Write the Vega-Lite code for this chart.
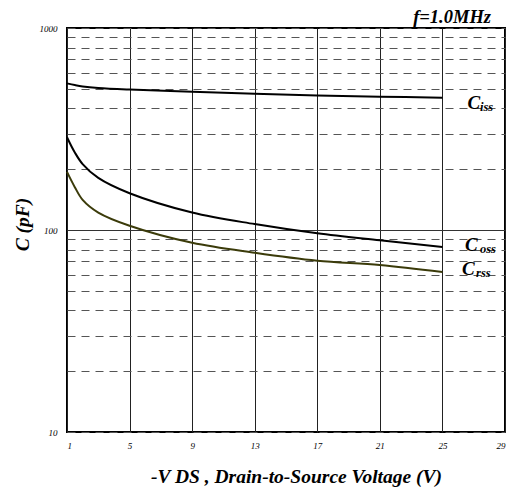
{
  "$schema": "https://vega.github.io/schema/vega-lite/v6.json",
  "width": 438,
  "height": 404,
  "autosize": {"type": "none"},
  "padding": {"left": 67, "top": 28, "right": 5, "bottom": 57},
  "background": "white",
  "title": {"text": "f=1.0MHz", "anchor": "end", "font": "Liberation Serif", "fontSize": 18.5, "fontStyle": "italic", "fontWeight": "bold", "color": "black", "offset": 0, "dx": -14, "dy": 2},
  "config": {
    "view": {"stroke": "black", "strokeWidth": 2},
    "font": "Liberation Serif"
  },
  "datasets": {
    "curves": [
      {"vds": 1, "c": 532, "series": "Ciss"},
      {"vds": 1.5, "c": 522, "series": "Ciss"},
      {"vds": 2, "c": 514, "series": "Ciss"},
      {"vds": 3, "c": 505, "series": "Ciss"},
      {"vds": 5, "c": 496, "series": "Ciss"},
      {"vds": 9, "c": 484, "series": "Ciss"},
      {"vds": 13, "c": 472, "series": "Ciss"},
      {"vds": 17, "c": 463, "series": "Ciss"},
      {"vds": 21, "c": 457, "series": "Ciss"},
      {"vds": 25, "c": 452, "series": "Ciss"},
      {"vds": 1, "c": 288, "series": "Coss"},
      {"vds": 1.5, "c": 242, "series": "Coss"},
      {"vds": 2, "c": 212, "series": "Coss"},
      {"vds": 3, "c": 181, "series": "Coss"},
      {"vds": 5, "c": 152, "series": "Coss"},
      {"vds": 9, "c": 122, "series": "Coss"},
      {"vds": 13, "c": 107, "series": "Coss"},
      {"vds": 17, "c": 96.3, "series": "Coss"},
      {"vds": 21, "c": 88.9, "series": "Coss"},
      {"vds": 25, "c": 82.4, "series": "Coss"},
      {"vds": 1, "c": 194, "series": "Crss"},
      {"vds": 1.5, "c": 163, "series": "Crss"},
      {"vds": 2, "c": 141, "series": "Crss"},
      {"vds": 3, "c": 122, "series": "Crss"},
      {"vds": 5, "c": 105, "series": "Crss"},
      {"vds": 9, "c": 86.5, "series": "Crss"},
      {"vds": 13, "c": 77.2, "series": "Crss"},
      {"vds": 17, "c": 70.5, "series": "Crss"},
      {"vds": 21, "c": 67.1, "series": "Crss"},
      {"vds": 25, "c": 61.9, "series": "Crss"}
    ],
    "labels": [
      {"vds": 26.6, "c": 397, "label": "C", "part": "main"},
      {"vds": 27.4, "c": 397, "label": "iss", "part": "sub"},
      {"vds": 26.45, "c": 78.7, "label": "C", "part": "main"},
      {"vds": 27.4, "c": 78.7, "label": "oss", "part": "sub"},
      {"vds": 26.25, "c": 59.9, "label": "C", "part": "main"},
      {"vds": 27.15, "c": 59.9, "label": "rss", "part": "sub"}
    ]
  },
  "encoding": {
    "x": {
      "field": "vds", "type": "quantitative",
      "scale": {"domain": [1, 29], "nice": false, "zero": false},
      "axis": {
        "values": [1, 5, 9, 13, 17, 21, 25, 29],
        "domain": false, "ticks": false,
        "grid": true, "gridColor": "#222", "gridWidth": 1,
        "labelFont": "Liberation Serif", "labelFontStyle": "italic", "labelFontSize": 9, "labelColor": "black", "labelPadding": 9,
        "title": "-V DS , Drain-to-Source Voltage (V)",
        "titleFont": "Liberation Serif", "titleFontSize": 19.5, "titleFontStyle": "italic", "titleFontWeight": "bold", "titleColor": "black",
        "titleX": 229, "titleY": 50, "titleBaseline": "alphabetic"
      }
    },
    "y": {
      "field": "c", "type": "quantitative",
      "scale": {"type": "log", "domain": [10, 1000], "nice": false},
      "axis": {
        "values": [10, 20, 30, 40, 50, 60, 70, 80, 90, 100, 200, 300, 400, 500, 600, 700, 800, 900, 1000],
        "labelExpr": "datum.value == 10 || datum.value == 100 || datum.value == 1000 ? format(datum.value, 'd') : ''",
        "domain": false, "ticks": false,
        "grid": true,
        "gridColor": {"condition": {"test": "datum.value == 100", "value": "#333"}, "value": "#555"},
        "gridDash": {"condition": {"test": "datum.value == 100", "value": []}, "value": [8, 6]},
        "gridWidth": 1,
        "labelFont": "Liberation Serif", "labelFontStyle": "italic", "labelFontSize": 9, "labelColor": "black", "labelPadding": 10,
        "title": "C (pF)",
        "titleFont": "Liberation Serif", "titleFontSize": 19.5, "titleFontStyle": "italic", "titleFontWeight": "bold", "titleColor": "black",
        "titleX": -45, "titleY": 196, "titleAlign": "center", "titleBaseline": "middle"
      }
    }
  },
  "layer": [
    {
      "data": {"name": "curves"},
      "mark": {"type": "line", "strokeWidth": 2, "interpolate": "catmull-rom"},
      "encoding": {
        "detail": {"field": "series"},
        "color": {
          "field": "series", "type": "nominal",
          "scale": {"domain": ["Ciss", "Coss", "Crss"], "range": ["#000000", "#000000", "#3b3b0a"]},
          "legend": null
        }
      }
    },
    {
      "data": {"name": "labels"},
      "transform": [{"filter": "datum.part == 'main'"}],
      "mark": {"type": "text", "align": "left", "baseline": "alphabetic", "font": "Liberation Serif", "fontSize": 19, "fontStyle": "italic", "fontWeight": "bold", "color": "black"},
      "encoding": {"text": {"field": "label"}}
    },
    {
      "data": {"name": "labels"},
      "transform": [{"filter": "datum.part == 'sub'"}],
      "mark": {"type": "text", "align": "left", "baseline": "alphabetic", "dy": 2, "font": "Liberation Serif", "fontSize": 12.5, "fontStyle": "italic", "fontWeight": "bold", "color": "black"},
      "encoding": {"text": {"field": "label"}}
    }
  ]
}
